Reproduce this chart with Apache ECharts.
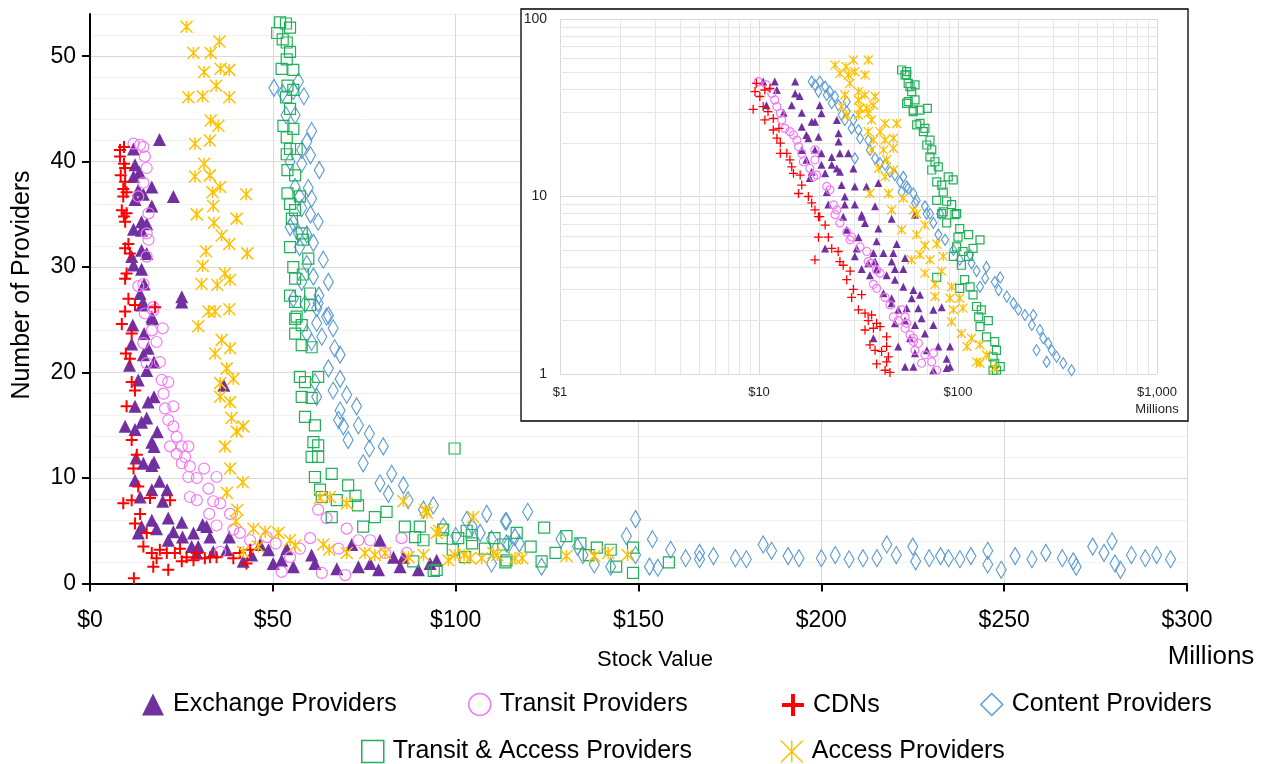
<!DOCTYPE html>
<html><head><meta charset="utf-8">
<script src="https://cdn.jsdelivr.net/npm/echarts@6/dist/echarts.min.js"></script>
<style>html,body{margin:0;padding:0;background:#fff}#c{width:1269px;height:764px}</style>
</head><body><div id="c"></div>
<script>
// ---------- names / ticks ----------
const seriesNames = ['Exchange Providers','Transit Providers','CDNs','Content Providers','Transit & Access Providers','Access Providers'];
const mainXTicks = [0, 50, 100, 150, 200, 250, 300];
const mainYTicks = [0, 10, 20, 30, 40, 50];
const mainYMax = 54;
const insetXTicks = [1, 10, 100, 1000];
const insetYTicks = [1, 10, 100];
const insetMinorX = [2,3,4,5,6,7,8,9,20,30,40,50,60,70,80,90,200,300,400,500,600,700,800,900];
const insetMinorY = [2,3,4,5,6,7,8,9,20,30,40,50,60,70,80,90];

// ---------- main chart data [stock value ($M), number of providers] ----------
const exchangeMain = [[19.0,42.1],[11.9,41.2],[12.3,39.7],[13.5,39.0],[11.9,38.6],[16.9,37.6],[22.8,36.7],[13.2,37.3],[14.6,36.9],[12.3,36.4],[16.9,35.8],[14.1,34.3],[15.5,34.1],[11.9,33.6],[14.1,33.5],[14.1,31.6],[15.5,31.3],[11.4,31.0],[11.9,30.2],[14.1,29.8],[14.8,28.4],[13.7,27.5],[25.1,27.2],[25.1,26.7],[14.6,26.6],[16.9,25.3],[14.1,26.4],[11.7,24.5],[14.8,23.7],[17.1,25.1],[11.4,22.7],[14.6,21.7],[15.9,22.3],[17.5,21.0],[10.8,20.7],[15.5,20.2],[13.2,19.3],[36.6,18.8],[17.5,17.7],[15.9,17.2],[12.3,16.8],[14.1,15.3],[15.5,15.7],[9.6,14.9],[12.3,14.6],[18.4,14.4],[16.9,13.4],[17.5,13.0],[12.6,11.9],[14.6,11.4],[16.9,11.2],[17.5,11.5],[12.3,9.8],[19.0,9.7],[16.9,8.9],[21.1,8.9],[13.7,8.2],[19.9,7.8],[16.9,6.0],[14.1,5.4],[21.4,6.2],[18.2,5.2],[13.2,4.8],[25.1,5.8],[22.8,4.9],[21.4,4.1],[25.3,4.4],[28.3,4.8],[30.8,5.6],[31.9,5.4],[32.8,4.4],[27.8,3.5],[29.6,3.5],[29.2,2.9],[33.7,3.0],[38.1,4.4],[37.4,3.2],[41.9,2.1],[44.2,2.7],[46.5,3.7],[48.8,3.2],[50.1,1.9],[52.4,2.2],[55.6,1.6],[53.8,3.3],[60.6,2.7],[61.5,1.9],[67.5,1.4],[71.6,3.7],[73.4,1.6],[76.6,1.9],[78.9,1.3],[79.3,4.1],[83.0,2.5],[84.8,1.6],[85.7,2.5],[89.8,1.3],[93.0,1.9],[94.8,2.2]];
const transitMain = [[11.9,41.7],[13.7,41.6],[14.6,41.4],[15.0,40.5],[15.5,39.4],[14.6,38.0],[13.2,36.7],[16.0,35.1],[15.5,33.2],[16.0,32.6],[15.5,31.0],[14.6,28.4],[13.2,28.2],[17.3,26.2],[15.0,25.6],[17.3,25.9],[16.9,24.0],[19.9,24.2],[14.6,22.8],[18.2,22.9],[19.1,21.0],[15.5,20.9],[19.6,19.3],[21.4,19.1],[20.1,18.0],[20.5,16.6],[22.8,16.8],[21.4,15.5],[22.8,14.9],[23.7,13.9],[21.9,13.0],[25.1,13.0],[26.9,13.0],[23.7,12.3],[26.0,12.0],[25.1,11.4],[27.3,11.1],[31.2,10.9],[26.9,10.1],[29.2,10.0],[34.6,10.1],[32.4,9.0],[27.3,8.2],[29.2,7.9],[33.7,7.8],[35.6,7.6],[32.6,6.6],[38.3,6.6],[34.6,5.5],[39.2,5.1],[41.0,4.8],[35.6,3.0],[43.8,4.1],[48.3,4.4],[50.8,3.8],[52.4,1.1],[54.7,2.5],[57.4,3.3],[60.2,4.3],[62.4,7.0],[64.7,6.2],[63.4,1.0],[70.2,5.2],[69.8,0.8],[68.0,3.3],[73.4,4.1],[76.6,4.1],[85.2,4.3],[80.7,2.9],[86.6,2.9]];
const cdnMain = [[8.2,41.1],[9.3,41.4],[8.2,40.5],[9.3,39.8],[9.6,39.4],[8.4,38.7],[9.6,38.1],[9.1,37.4],[9.1,36.7],[10.0,37.1],[8.7,35.4],[10.0,35.1],[9.3,34.8],[9.6,34.3],[10.5,32.2],[9.6,31.8],[10.9,31.3],[10.0,29.4],[9.6,28.9],[10.5,27.0],[12.3,26.4],[9.6,25.8],[17.8,26.2],[8.7,24.6],[11.4,23.7],[9.8,21.8],[10.9,21.3],[11.4,19.1],[12.3,18.3],[10.0,16.8],[11.4,13.6],[12.8,12.2],[11.9,10.9],[13.2,9.2],[9.1,7.6],[11.4,7.9],[13.7,6.6],[12.3,5.7],[16.4,8.1],[21.9,7.9],[16.9,2.9],[19.1,3.2],[21.0,2.9],[23.2,2.9],[24.6,3.3],[26.4,2.5],[29.2,2.9],[31.4,2.4],[34.6,2.5],[39.2,2.4],[41.0,2.9],[43.8,3.2],[17.3,1.6],[21.4,1.3],[12.0,0.5],[14.6,3.5],[15.5,4.8],[18.2,2.4],[25.1,2.1],[28.3,2.2],[32.8,2.5],[42.8,1.9]];
const contentMain = [[50.3,47.0],[52.7,46.5],[57.0,47.6],[55.6,46.7],[58.5,46.2],[53.6,44.4],[56.1,44.4],[60.6,42.9],[59.3,41.9],[57.9,41.1],[60.3,40.6],[54.7,40.0],[57.9,39.8],[62.7,39.2],[56.1,37.6],[59.7,37.5],[57.3,36.7],[60.6,36.5],[57.9,35.6],[60.3,35.0],[62.4,34.3],[55.6,34.2],[54.7,33.8],[57.0,33.2],[59.3,33.1],[61.1,32.3],[57.3,31.9],[63.8,30.7],[59.3,30.3],[61.1,29.1],[65.2,28.6],[57.9,28.6],[62.6,27.3],[55.6,27.0],[58.8,26.5],[62.0,26.1],[65.2,25.4],[62.4,26.6],[64.7,25.3],[62.0,24.7],[66.5,24.2],[59.3,23.7],[60.6,22.9],[63.4,23.4],[66.9,22.3],[68.4,21.7],[65.2,20.4],[68.4,19.4],[61.5,19.1],[66.5,18.3],[70.2,17.9],[62.0,17.7],[68.4,16.4],[72.9,16.8],[68.0,15.5],[69.3,14.9],[73.4,15.0],[76.4,14.2],[70.6,13.6],[80.2,13.0],[76.4,12.8],[74.7,11.4],[82.5,10.4],[79.3,9.5],[85.7,9.3],[81.6,8.5],[87.0,7.9],[91.2,7.0],[93.9,7.4],[96.6,5.4],[103.0,6.0],[108.5,6.6],[113.9,5.9],[109.8,1.9],[106.7,4.8],[113.9,3.8],[116.2,4.4],[100.0,4.5],[104.5,5.4],[119.7,6.8],[113.6,5.9],[109.8,4.2],[114.4,3.7],[117.4,3.8],[123.5,1.6],[128.8,4.2],[133.3,3.5],[134.8,2.7],[137.9,1.8],[142.4,1.6],[146.7,4.5],[149.2,6.1],[149.2,2.7],[153.8,4.2],[153.0,1.6],[155.3,1.5],[158.8,3.2],[162.9,2.4],[166.7,2.9],[170.5,2.6],[166.7,2.3],[176.5,2.4],[179.5,2.3],[184.1,3.7],[186.4,3.1],[190.9,2.6],[193.9,2.4],[200.0,2.4],[203.8,2.7],[207.6,2.3],[211.4,2.4],[215.2,2.4],[217.9,3.7],[220.5,2.7],[225.0,3.5],[225.8,2.1],[229.5,2.4],[232.6,2.6],[234.8,2.4],[237.9,2.3],[240.9,2.6],[245.5,3.1],[245.5,1.8],[249.2,1.3],[253.0,2.6],[257.6,2.3],[261.4,2.9],[265.9,2.4],[268.9,2.1],[269.7,1.6],[274.2,3.5],[277.3,2.9],[279.5,4.0],[280.3,1.9],[281.8,1.3],[284.8,2.7],[288.6,2.4],[291.7,2.7],[295.5,2.3]];
const transAccMain = [[52.0,53.2],[53.6,53.1],[54.7,52.7],[51.2,52.2],[52.7,51.6],[53.8,51.3],[54.7,50.4],[53.8,49.7],[52.4,48.8],[55.6,48.7],[54.0,47.2],[55.6,46.8],[53.6,46.1],[54.7,45.0],[52.9,43.4],[55.6,43.1],[53.8,42.3],[54.7,41.2],[56.5,41.2],[53.8,40.7],[54.0,39.2],[56.1,38.7],[54.0,37.0],[57.4,36.7],[54.7,36.0],[56.1,35.4],[55.2,34.6],[57.9,33.2],[54.7,31.9],[58.3,32.6],[59.7,30.8],[55.6,30.0],[58.2,29.3],[56.1,28.9],[60.2,27.5],[54.7,27.3],[56.1,26.7],[60.2,26.4],[56.5,25.3],[56.1,25.1],[57.9,24.5],[56.1,23.7],[57.9,22.6],[60.6,22.4],[57.4,19.6],[58.8,19.1],[62.4,19.6],[57.9,17.7],[60.6,17.6],[58.8,15.8],[61.5,15.0],[61.1,13.4],[62.4,13.1],[60.6,12.0],[62.4,12.0],[61.5,10.1],[66.1,10.4],[62.9,8.9],[70.6,9.3],[63.4,8.2],[67.5,7.9],[72.6,8.3],[66.1,6.3],[73.3,7.4],[74.7,5.4],[77.9,6.3],[81.1,6.8],[86.1,5.4],[88.9,4.4],[91.2,4.1],[96.6,5.1],[100.7,4.3],[104.4,4.6],[88.4,2.1],[94.8,1.3],[108.0,3.3],[113.0,3.7],[113.9,2.2],[102.6,2.5],[99.7,12.8],[90.2,5.4],[96.2,4.3],[103.0,5.0],[110.6,4.3],[116.7,4.8],[124.2,5.3],[130.3,4.5],[134.1,3.8],[138.6,3.4],[142.4,3.2],[148.5,1.0],[148.5,3.4],[158.3,2.0],[123.5,2.1],[113.6,2.0],[120.5,3.5],[127.3,2.9],[104.5,3.8],[99.2,3.2],[136.4,2.7],[143.9,1.6],[94.0,1.2]];
const accessMain = [[26.4,52.8],[28.3,50.3],[33.0,50.3],[35.4,51.4],[31.2,48.5],[35.7,48.8],[38.1,48.7],[34.5,47.2],[26.9,46.1],[30.8,46.2],[38.1,46.1],[33.0,43.9],[35.1,43.4],[28.7,41.7],[32.8,42.0],[31.2,39.8],[28.7,38.6],[32.8,38.7],[35.6,37.6],[33.5,37.1],[42.7,36.9],[33.7,35.8],[29.2,35.0],[40.1,34.6],[33.9,34.2],[36.0,33.0],[38.1,32.2],[43.0,31.3],[31.7,31.5],[30.8,30.1],[36.9,29.4],[38.3,28.8],[30.5,28.4],[34.8,28.3],[38.1,26.0],[32.4,25.8],[34.2,25.8],[29.6,24.4],[36.0,23.1],[38.3,22.3],[34.2,21.8],[37.4,20.4],[39.2,19.4],[35.6,19.0],[38.3,17.2],[35.6,17.7],[38.7,15.7],[41.9,14.9],[40.1,14.4],[36.9,13.0],[38.3,10.9],[41.8,9.6],[37.4,8.6],[40.3,7.0],[39.9,5.9],[44.7,5.2],[47.9,4.9],[51.5,4.8],[54.7,4.1],[56.1,3.6],[46.0,3.5],[41.9,3.0],[63.8,3.7],[65.4,3.2],[70.2,2.9],[62.9,8.1],[65.6,8.2],[70.2,7.6],[75.2,2.9],[77.9,2.7],[80.7,2.9],[85.7,7.8],[87.1,2.5],[91.2,2.7],[92.1,6.7],[94.8,4.8],[98.0,2.2],[99.8,2.7],[104.8,6.3],[103.9,2.4],[107.1,2.4],[110.3,2.9],[116.2,2.4],[91.7,7.0],[95.5,5.0],[102.3,2.7],[111.4,2.7],[118.2,2.4],[130.3,2.6],[137.9,2.6],[141.7,2.9],[147.0,2.7]];

// ---------- inset (log-log) data ----------
const exchangeInset = [[10.5,44.4],[12.0,44.4],[15.2,44.4],[12.3,39.8],[15.2,38.1],[16.0,36.8],[10.9,32.7],[14.6,32.7],[20.2,32.7],[16.4,29.6],[20.6,29.4],[13.3,29.6],[24.6,27],[18.4,26.4],[19.1,26.4],[16.4,24.7],[17.3,22.2],[17.7,21.3],[19.9,21.7],[25.1,22.7],[25.1,20.4],[16.4,18.3],[19.1,18.3],[20.6,17.5],[23.2,16.7],[25.5,17.5],[28.1,17.5],[17.3,16.1],[20.6,15.1],[23.2,15.1],[24.6,14.4],[25.5,13.8],[29.8,14.4],[18.4,13.8],[18.0,12.7],[21.5,13.5],[26.0,11.6],[30.3,11.4],[34.7,11.4],[39.8,11.9],[21.9,10.6],[27.0,10],[22.3,9.0],[27.0,9.0],[30.3,9.0],[38.3,8.8],[32.8,7.9],[26.5,7.7],[60.8,7.9],[46.4,7.5],[32.8,7.7],[34.1,7.1],[27.6,6.5],[39.8,6.6],[31.6,5.9],[39.0,5.6],[49.2,5.4],[21.5,5.1],[31.0,5.1],[37.6,4.8],[42.2,4.8],[47.3,4.8],[30.3,4.6],[54.2,4.5],[35.4,4.2],[38.3,4.3],[46.4,4.3],[32.8,3.9],[39.0,3.9],[48.2,3.9],[53.1,3.9],[36.1,3.6],[43.8,3.6],[48.2,3.4],[42.2,2.85],[53.1,3.1],[59.7,2.97],[46.4,2.67],[58.5,2.67],[46.4,2.5],[50.1,2.3],[55.2,2.35],[63.2,2.35],[54.2,2.0],[48.2,1.93],[60.8,1.89],[37.6,1.59],[50.1,1.43],[60.8,1.31],[54.2,1.1],[59.7,1.1],[64.4,2.8],[75.2,2.3],[82.8,2.38],[65.6,2.06],[75.2,1.89],[57.4,1.59],[68.2,1.69],[69.7,1.36],[79.6,1.43],[91.2,1.43],[87.7,1.22],[91.2,1.1],[75.2,1.05],[87.7,1.08]];
const transitInset = [[9.9,44.4],[10.9,42.5],[11.6,38.1],[12.0,35],[12.3,32.1],[12.8,29.4],[13.0,27],[13.5,24.2],[14.3,23.2],[14.9,22.2],[15.5,20.8],[15.8,19.1],[16.4,17.5],[16.7,15.7],[18.0,14.4],[19.1,18.3],[19.1,16.1],[19.5,13.2],[18.8,12.9],[21.9,11.4],[22.7,10.9],[23.7,8.96],[24.6,8.4],[24.1,7.9],[25.5,7.1],[27.6,6.3],[29.2,5.9],[28.7,5.7],[32.2,5.2],[34.8,4.9],[35.4,4.3],[36.8,4.2],[39.0,3.85],[40.6,3.7],[37.6,3.2],[39.0,3.04],[43.0,2.7],[45.5,2.45],[47.3,2.1],[50.1,2.0],[54.2,1.81],[57.4,1.66],[59.7,1.52],[60.8,1.36],[52.1,2.3],[54.2,2.1],[55.2,1.93],[59.7,1.59],[63.2,1.49],[68.2,1.28],[73.8,1.17],[78.2,1.05],[65.6,1.15],[75.2,1.31]];
const cdnInset = [[9.7,43.4],[9.55,39],[9.35,31],[10.1,36.6],[10.7,39.8],[11.35,40.7],[10.5,32.1],[11.1,30.1],[10.7,27],[11.8,27.5],[11.8,23.7],[12.6,24.2],[12.3,21.3],[12.8,20],[13.8,17.5],[12.8,17.5],[14.3,16.1],[14.6,14.7],[14.9,13.5],[16.1,13.2],[16.4,11.6],[15.8,10.4],[17.7,10],[18.4,9.2],[19.1,8.4],[19.9,7.7],[20.2,7.7],[21.5,6.9],[19.9,5.9],[22.3,5.9],[19.1,4.4],[23.2,5.1],[25.0,4.9],[25.5,4.3],[26.5,4.1],[28.7,3.8],[27.6,3.4],[29.8,3.0],[29.2,2.7],[32.8,2.8],[31.6,2.3],[34.1,2.2],[36.8,2.15],[35.4,2.0],[39.0,1.93],[37.6,1.81],[40.6,1.85],[34.1,1.77],[36.1,1.46],[38.3,1.36],[41.3,1.34],[43.8,1.62],[43.8,1.43],[44.7,1.25],[43.8,1.17],[39.0,1.14],[43.0,1.05],[45.5,1.02]];
const contentInset = [[18.4,44.4],[19.1,42.5],[20.2,44.4],[19.9,39],[21.5,41.6],[21.9,37.3],[22.7,39],[24.1,36.6],[23.2,33.5],[25.1,32.7],[27.6,34.2],[26.0,28.8],[27.6,30.1],[29.8,27],[27.0,27],[29.2,24.2],[31.6,23.7],[32.2,21.3],[35.4,20.8],[30.3,16.4],[36.1,18.3],[38.3,16.4],[40.6,15.4],[43.0,15.1],[45.5,13.8],[48.2,13.2],[51.1,12.1],[52.1,10.6],[56.2,11.1],[59.7,10.4],[60.8,9.2],[53.1,12.9],[55.2,11.4],[62,9.5],[68.2,8.8],[72.3,8.0],[69.5,8.0],[75.2,7.1],[79.6,6.1],[86.1,5.7],[94.8,5.0],[102,4.4],[117,4.2],[124,3.8],[139,4.0],[137,3.46],[153,3.3],[160,2.97],[176,2.73],[190,2.5],[201,2.3],[217,2.15],[239,2.15],[235,1.89],[258,1.77],[268,1.59],[284,1.49],[296,1.36],[313,1.25],[338,1.15],[372,1.05],[248,1.36],[279,1.17],[163,3.5],[129,3.1],[115,4.7],[81.3,8.0]];
const transAccInset = [[52.1,51.6],[55.2,48.4],[57.4,41.6],[56.2,34.2],[59.7,30.7],[62,25.3],[55.2,50.5],[54.2,48.4],[56.2,43.4],[60.8,42.5],[58.5,39],[55.2,33.5],[60.8,35],[59.6,30.1],[64.4,30.7],[70.1,31.4],[64.4,25.8],[68.2,24.2],[67,23.2],[72.3,20.8],[69.7,19.5],[73.8,18.3],[72.3,16.7],[76.6,15.7],[73.8,14.1],[79.6,14.7],[78.2,12.1],[89.3,12.9],[94.6,12.4],[82.8,11.6],[84.3,10.6],[78.2,9.5],[87.7,9.4],[92.9,9.0],[82.8,8.0],[98.4,8.0],[84.3,8.2],[96.6,7.9],[87.7,7.1],[102,6.6],[100,5.9],[113,6.1],[129,5.7],[98.4,5.2],[106,4.9],[119,5.1],[113,4.6],[94.8,4.6],[78.2,3.5],[104,4.1],[108,3.4],[102,3.04],[115,3.1],[119,2.79],[124,2.4],[131,2.3],[127,2.1],[142,2.0],[129,1.85],[139,1.62],[153,1.52],[156,1.36],[150,1.25],[153,1.15],[163,1.1],[156,1.05],[150,1.05]];
const accessInset = [[24.1,55],[27.4,53.9],[29.8,58.7],[35.4,58.7],[25.5,49.4],[28.1,48.4],[30.3,50.5],[34.1,48.4],[28.6,43.4],[31.6,39],[27.0,37.3],[34.1,37.3],[38.3,36.6],[31.6,35],[26.0,32.1],[32.2,31.4],[34.8,31.4],[37.6,32.7],[31.6,28.8],[35.4,29.4],[27.6,28.8],[36.8,27],[43.0,25.8],[49.2,25.8],[35.4,23.2],[40.6,23.2],[37.6,20.8],[43.0,20.8],[47.3,21.3],[36.8,18.3],[42.2,18.3],[47.3,18.7],[43.8,16.1],[39.8,14.4],[43.0,12.9],[47.3,14.1],[36.1,10.4],[44.7,10.4],[53.1,9.8],[46.4,8.4],[59.7,8.4],[52.1,6.5],[58.5,4.4],[62,8.0],[68.2,6.9],[62,6.1],[68.2,5.3],[78.2,5.4],[64.4,4.7],[72.3,4.4],[84.3,4.6],[82.8,3.8],[68.2,3.7],[76.6,3.2],[92.9,3.1],[76.6,2.73],[91.2,2.67],[102,2.67],[106,2.35],[94.8,2.3],[92.9,1.97],[104,1.69],[117,1.59],[111,1.43],[129,1.46],[124,1.17],[139,1.28],[153,1.08],[129,1.15]];

// ---------- styling ----------
const FONT = 'Liberation Sans, Arial, sans-serif';
const C = {purple:'#7030A0', pink:'#F47AF4', red:'#FF0000', blue:'#5B9BD5', green:'#20B05A', yellow:'#FFC000'};
const PLUS = 'path://M5 0L5 10M0 5L10 5';
const STAR = 'path://M0 0L10 10M10 0L0 10M5 0L5 10';
const NONE = 'rgba(0,0,0,0)';

const styles = [
  {symbol:'triangle', main:13, inset:8, itemStyle:{color:C.purple, opacity:1}},
  {symbol:'circle', main:11, inset:8, itemStyle:{color:NONE, borderColor:C.pink, borderWidth:1.2, opacity:1}},
  {symbol:PLUS, main:12, inset:9, itemStyle:{color:NONE, borderColor:C.red, borderWidth:2, opacity:1}},
  {symbol:'diamond', main:[10,17], inset:[7,11], itemStyle:{color:NONE, borderColor:C.blue, borderWidth:1.2, opacity:1}},
  {symbol:'rect', main:11, inset:8, itemStyle:{color:NONE, borderColor:C.green, borderWidth:1.2, opacity:1}},
  {symbol:STAR, main:12, inset:9, itemStyle:{color:NONE, borderColor:C.yellow, borderWidth:1.5, opacity:1}}
];
const mainData = [exchangeMain, transitMain, cdnMain, contentMain, transAccMain, accessMain];
const insetData = [exchangeInset, transitInset, cdnInset, contentInset, transAccInset, accessInset];

const series = [];
seriesNames.forEach((n, i) => {
  series.push({name:n, type:'scatter', xAxisIndex:0, yAxisIndex:0, z:2, symbol:styles[i].symbol,
    symbolSize:styles[i].main, itemStyle:styles[i].itemStyle, data:mainData[i], silent:true, animation:false});
});
// inset minor grid lines (through the log scales) on an invisible carrier series
series.push({type:'scatter', xAxisIndex:1, yAxisIndex:2, z:11, data:[[1,1]], symbolSize:0, silent:true, animation:false,
  itemStyle:{opacity:0},
  markLine:{silent:true, symbol:['none','none'], label:{show:false}, animation:false, z:11,
    lineStyle:{color:'#e6e6e6', width:1, type:'solid', opacity:1},
    emphasis:{disabled:true},
    data: insetMinorX.map(v => ({xAxis:v})).concat(insetMinorY.map(v => ({yAxis:v})))}});
seriesNames.forEach((n, i) => {
  series.push({name:n, type:'scatter', xAxisIndex:1, yAxisIndex:2, z:12, symbol:styles[i].symbol,
    symbolSize:styles[i].inset, itemStyle:Object.assign({}, styles[i].itemStyle,
      styles[i].itemStyle.borderWidth ? {borderWidth: Math.min(styles[i].itemStyle.borderWidth, 1.3)} : {}),
    data:insetData[i], silent:true, animation:false});
});

const legendPos = [[137,687],[463,687],[775,687],[975,687],[356,734],[775,734]];
const legendIcons = ['triangle','circle',PLUS,'diamond','rect',STAR];
const legends = seriesNames.map((n, i) => ({
  left:legendPos[i][0], top:legendPos[i][1], itemWidth:22, itemHeight:22, selectedMode:false,
  textStyle:{fontFamily:FONT, fontSize:25, color:'#000', padding:[0,0,0,4]},
  data:[{name:n, icon:legendIcons[i], itemStyle: i===2 ? {borderWidth:4, opacity:1} : (i===0 ? {opacity:1} : {borderWidth:1.5, opacity:1})}]
}));

const option = {
  backgroundColor:'#fff',
  animation:false,
  textStyle:{fontFamily:FONT},
  legend: legends,
  grid:[
    {left:90, right:82, top:14, bottom:180.5},
    {left:560, top:19, width:597, height:355}
  ],
  xAxis:[
    {type:'value', gridIndex:0, min:mainXTicks[0], max:mainXTicks[mainXTicks.length-1], interval:50, z:1,
      axisLine:{lineStyle:{color:'#000', width:2}}, axisTick:{length:8, lineStyle:{color:'#000', width:2}},
      axisLabel:{fontSize:23, color:'#000', margin:26, fontFamily:FONT, formatter:v=>'$'+v},
      splitLine:{show:true, lineStyle:{color:'#d9d9d9', width:1}}},
    {type:'log', logBase:10, gridIndex:1, min:insetXTicks[0], max:insetXTicks[insetXTicks.length-1], z:11,
      axisLine:{show:false}, axisTick:{show:false},
      axisLabel:{fontSize:13, color:'#222', margin:12, fontFamily:FONT, formatter:v=>'$'+Number(v).toLocaleString('en-US')},
      splitLine:{show:true, lineStyle:{color:'#d9d9d9', width:1}}}
  ],
  yAxis:[
    {type:'value', gridIndex:0, min:mainYTicks[0], max:mainYMax, interval:10, z:1,
      axisLine:{show:true, lineStyle:{color:'#000', width:2}}, axisTick:{show:true, length:8, lineStyle:{color:'#000', width:2}},
      axisLabel:{fontSize:23, color:'#000', margin:14, fontFamily:FONT, showMaxLabel:false},
      splitLine:{show:true, showMaxLine:false, lineStyle:{color:'#d9d9d9', width:1}}},
    {type:'value', gridIndex:0, min:0, max:mainYMax, interval:2, z:0, position:'left',
      axisLine:{show:false}, axisTick:{show:false}, axisLabel:{show:false},
      splitLine:{show:true, lineStyle:{color:'#f0f0f0', width:1}}},
    {type:'log', logBase:10, gridIndex:1, min:insetYTicks[0], max:insetYTicks[insetYTicks.length-1], z:11,
      axisLine:{show:false}, axisTick:{show:false},
      axisLabel:{fontSize:14, color:'#222', margin:13, fontFamily:FONT},
      splitLine:{show:true, lineStyle:{color:'#d9d9d9', width:1}}}
  ],
  graphic:{elements:[
    {type:'rect', z:10, silent:true, shape:{x:521, y:9, width:667, height:412},
      style:{fill:'#fff', stroke:'#000', lineWidth:1.3}},
    {type:'text', z:12, silent:true, x:1157, y:403, style:{text:'Millions', fontFamily:FONT, fontSize:13, fill:'#222', align:'center'}},
    {type:'text', z:5, silent:true, x:22, y:285, rotation:Math.PI/2,
      style:{text:'Number of Providers', fontFamily:FONT, fontSize:25, fill:'#000', align:'center', verticalAlign:'middle'}},
    {type:'text', z:5, silent:true, x:655, y:660,
      style:{text:'Stock Value', fontFamily:FONT, fontSize:22, fill:'#000', align:'center', verticalAlign:'middle'}},
    {type:'text', z:5, silent:true, x:1211, y:657,
      style:{text:'Millions', fontFamily:FONT, fontSize:26, fill:'#000', align:'center', verticalAlign:'middle'}}
  ]},
  series: series
};
const chart = echarts.init(document.getElementById('c'), null, {renderer:'canvas'});
chart.setOption(option);
</script></body></html>
